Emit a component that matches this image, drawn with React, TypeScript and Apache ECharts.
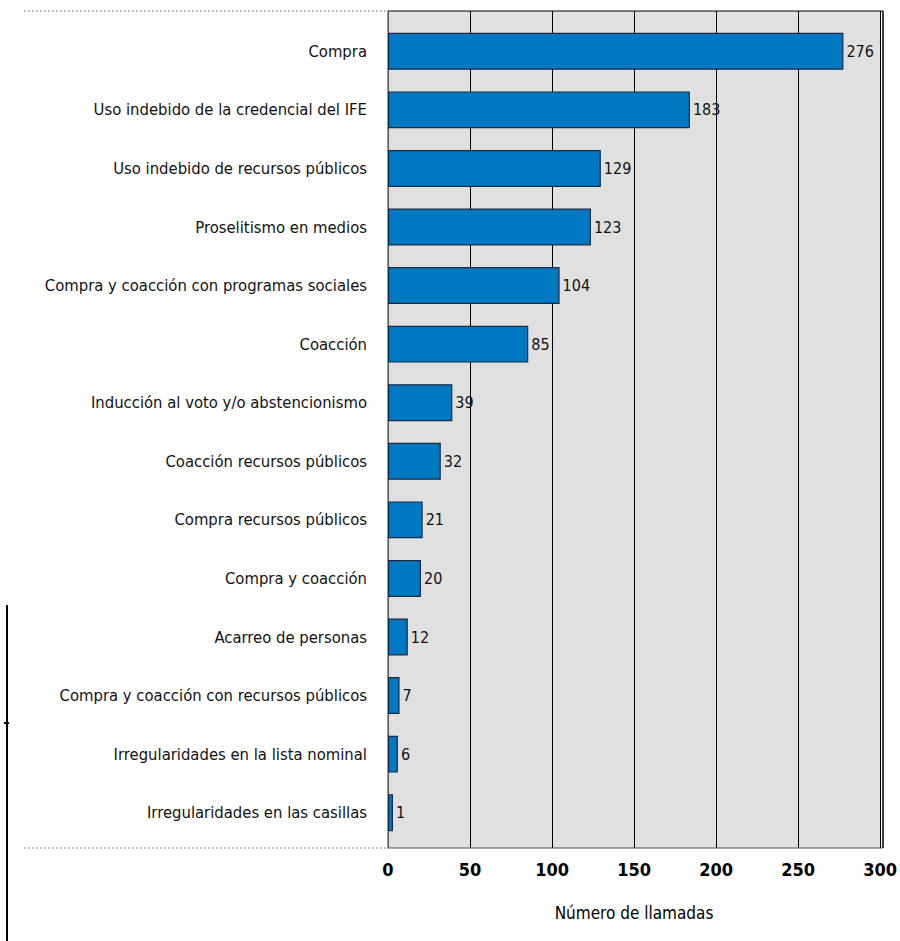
import React, { useEffect, useRef } from "react";
import * as echarts from "echarts";

const categories = [
  "Compra",
  "Uso indebido de la credencial del IFE",
  "Uso indebido de recursos públicos",
  "Proselitismo en medios",
  "Compra y coacción con programas sociales",
  "Coacción",
  "Inducción al voto y/o abstencionismo",
  "Coacción recursos públicos",
  "Compra recursos públicos",
  "Compra y coacción",
  "Acarreo de personas",
  "Compra y coacción con recursos públicos",
  "Irregularidades en la lista nominal",
  "Irregularidades en las casillas",
];
const values = [276, 183, 129, 123, 104, 85, 39, 32, 21, 20, 12, 7, 6, 1];
const xAxisName = "Número de llamadas";

const FONT = "'Liberation Sans Narrow', 'DejaVu Sans Condensed', 'Roboto Condensed', sans-serif";

export default function App() {
  const ref = useRef<HTMLDivElement>(null);
  useEffect(() => {
    if (!ref.current) return;
    const chart = echarts.init(ref.current, undefined, { renderer: "svg" });
    chart.setOption({
      animation: false,
      grid: [
        { left: 388, right: 17, top: 11, bottom: 93, backgroundColor: "#e0e0e0", show: true, borderWidth: 0 },
        { left: 388, right: 17, top: 22, bottom: 99 },
      ],
      xAxis: [
        {
          gridIndex: 0,
          type: "value",
          min: 0,
          max: 300,
          interval: 50,
          name: xAxisName,
          nameLocation: "middle",
          nameGap: 56,
          nameTextStyle: { fontFamily: FONT, fontSize: 17, color: "#000", fontWeight: 500 },
          axisLine: { show: false },
          axisTick: { show: false },
          axisLabel: { fontFamily: FONT, fontSize: 18, fontWeight: "bold", color: "#000", margin: 12 },
          splitLine: { show: true, lineStyle: { color: "#000", width: 1 } },
        },
        {
          gridIndex: 1,
          type: "value",
          min: 0,
          max: 300,
          interval: 50,
          show: false,
          splitLine: { show: false },
        },
      ],
      yAxis: [
        {
          gridIndex: 0,
          type: "category",
          data: categories,
          inverse: true,
          axisLine: { show: true, lineStyle: { color: "#777", width: 1.5 } },
          axisTick: { show: false },
          axisLabel: { show: false },
          splitLine: { show: false },
        },
        {
          gridIndex: 1,
          type: "category",
          data: categories,
          inverse: true,
          axisLine: { show: false },
          axisTick: { show: false },
          splitLine: { show: false },
          axisLabel: { fontFamily: FONT, fontSize: 16.5, color: "#111", margin: 21 },
        },
      ],
      series: [
        {
          type: "bar",
          xAxisIndex: 1,
          yAxisIndex: 1,
          data: values,
          barCategoryGap: "37%",
          barMinHeight: 5,
          itemStyle: { color: "#0078c2", borderColor: "#1b2a44", borderWidth: 1.2 },
          label: {
            show: true,
            position: "right",
            distance: 3,
            fontFamily: FONT,
            fontSize: 16,
            color: "#111",
          },
        },
      ],
      graphic: [
        { type: "line", shape: { x1: 24, y1: 11, x2: 388, y2: 11 }, style: { stroke: "#999", lineWidth: 1.5, lineDash: [1.5, 2.5] } },
        { type: "line", shape: { x1: 24, y1: 848, x2: 388, y2: 848 }, style: { stroke: "#999", lineWidth: 1.5, lineDash: [1.5, 2.5] } },
        { type: "line", shape: { x1: 883, y1: 11, x2: 883, y2: 848 }, style: { stroke: "#000", lineWidth: 1.5 } },
        { type: "line", shape: { x1: 388, y1: 11, x2: 883, y2: 11 }, style: { stroke: "#000", lineWidth: 1 } },
        { type: "line", shape: { x1: 388, y1: 848, x2: 883, y2: 848 }, style: { stroke: "#555", lineWidth: 1 } },
        { type: "line", shape: { x1: 7, y1: 605, x2: 7, y2: 941 }, style: { stroke: "#000", lineWidth: 2 } },
        { type: "line", shape: { x1: 4, y1: 723, x2: 9, y2: 723 }, style: { stroke: "#000", lineWidth: 2 } },
      ],
    });
    return () => chart.dispose();
  }, []);
  return <div ref={ref} style={{ width: 900, height: 941, position: "absolute", left: 0, top: 0 }} />;
}
